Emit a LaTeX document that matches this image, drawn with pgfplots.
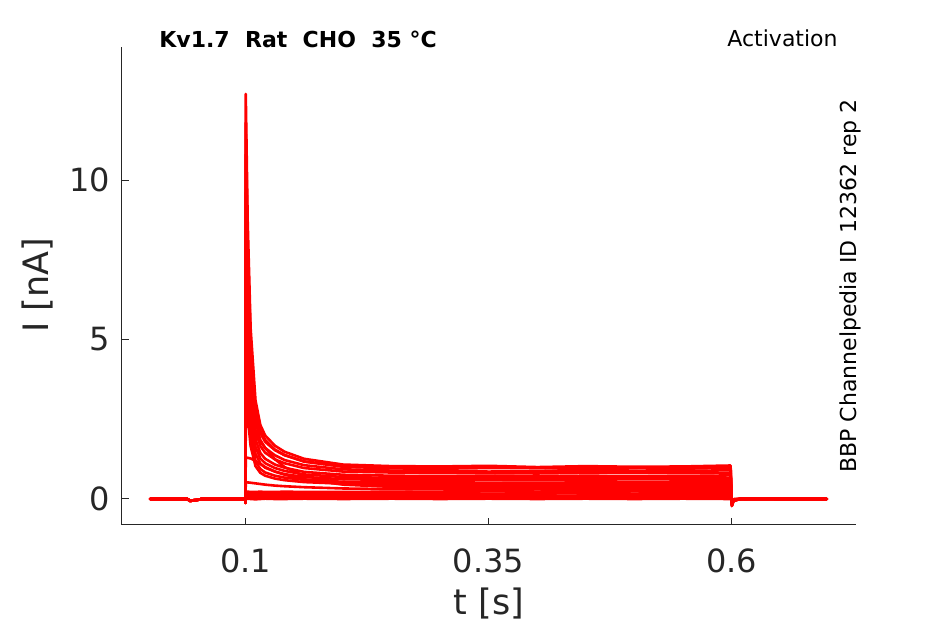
\documentclass[border=0pt]{standalone}
\usepackage{fontspec}
\setmainfont{DejaVu Sans}
\usepackage{pgfplots}
\usepackage{pgfplotstable}
\pgfplotsset{compat=1.18}
\definecolor{txt}{HTML}{262626}

\pgfplotstableread{
t a b c d e f g h i j k l m n o p q r
0.002 0 0.01 0 -0.01 0 0 0.01 0 0 -0.01 0 0 0.01 0 0 0 0.01 0
0.040 0 0 0 0 0 0 0 0 0 0 0 0 0 0 0 0 0 0
0.043 -0.06 -0.06 -0.05 -0.06 -0.06 -0.05 -0.06 -0.06 -0.05 -0.06 -0.06 -0.05 -0.06 -0.06 -0.05 -0.06 -0.06 -0.05
0.050 -0.03 -0.03 -0.03 -0.03 -0.03 -0.03 -0.03 -0.03 -0.03 -0.03 -0.03 -0.03 -0.03 -0.03 -0.03 -0.03 -0.03 -0.03
0.055 0 0 0 0 0 0 0 0 0 0 0 0 0 0 0 0 0 0
0.0997 0 0 0 0 0 0 0 0 0 0 0 0 0 0 0 0 0 0
0.1000 -0.12 -0.12 -0.12 -0.12 -0.12 -0.12 -0.12 -0.12 -0.12 -0.12 -0.12 -0.12 -0.12 -0.12 -0.12 -0.12 -0.12 -0.12
0.1003 12.7 11.8 10.8 9.6 8.4 7.2 6.2 5.2 4.3 3.7 2.35 1.30 0.52 0.22 0.14 0.08 0.03 0.00
0.1023 8.68 8.07 7.42 6.60 5.79 4.97 4.29 3.62 3.00 2.59 2.30 1.29 0.52 0.23 0.15 0.09 0.04 0.01
0.1053 5.35 4.97 4.62 4.11 3.63 3.12 2.71 2.30 1.92 1.66 2.15 1.27 0.51 0.22 0.14 0.08 0.03 0.00
0.1103 3.09 2.87 2.72 2.43 2.16 1.87 1.64 1.42 1.19 1.03 1.95 1.20 0.49 0.22 0.14 0.09 0.04 -0.01
0.1153 2.32 2.15 2.07 1.85 1.66 1.44 1.27 1.11 0.94 0.82 1.80 1.10 0.47 0.23 0.15 0.09 0.04 0.00
0.1203 1.99 1.85 1.79 1.60 1.45 1.26 1.12 0.98 0.83 0.73 1.60 1.00 0.45 0.22 0.14 0.08 0.03 0.01
0.1303 1.67 1.55 1.53 1.37 1.24 1.08 0.97 0.86 0.73 0.64 1.25 0.86 0.42 0.22 0.15 0.09 0.04 0.00
0.1403 1.48 1.38 1.37 1.22 1.12 0.98 0.88 0.78 0.67 0.59 1.00 0.76 0.40 0.23 0.15 0.09 0.04 0.00
0.1603 1.26 1.17 1.18 1.06 0.97 0.85 0.77 0.69 0.60 0.53 0.72 0.62 0.37 0.22 0.15 0.09 0.03 0.01
0.2003 1.08 1.01 1.03 0.93 0.86 0.76 0.69 0.62 0.54 0.48 0.50 0.45 0.33 0.22 0.16 0.10 0.04 0.00
0.2503 1.03 0.96 0.99 0.89 0.83 0.73 0.66 0.60 0.52 0.46 0.44 0.38 0.31 0.23 0.16 0.10 0.04 0.01
0.3003 1.02 0.95 0.98 0.88 0.82 0.72 0.67 0.61 0.53 0.47 0.42 0.36 0.30 0.22 0.17 0.10 0.05 0.00
0.3500 1.04 0.97 0.99 0.86 0.81 0.73 0.65 0.60 0.51 0.46 0.41 0.35 0.29 0.24 0.17 0.11 0.04 0.01
0.4003 1.00 0.97 0.97 0.87 0.80 0.71 0.65 0.59 0.51 0.45 0.41 0.36 0.30 0.23 0.17 0.10 0.05 0.00
0.4500 1.03 0.94 0.99 0.89 0.82 0.73 0.66 0.60 0.52 0.46 0.42 0.35 0.29 0.23 0.18 0.11 0.05 0.01
0.5003 1.01 0.96 0.98 0.87 0.83 0.72 0.68 0.62 0.53 0.46 0.40 0.36 0.30 0.24 0.17 0.11 0.04 0.00
0.5500 1.02 0.95 1.00 0.88 0.81 0.72 0.67 0.61 0.53 0.47 0.41 0.35 0.29 0.23 0.18 0.11 0.05 0.01
0.5990 1.05 0.98 0.99 0.90 0.82 0.74 0.66 0.60 0.52 0.46 0.42 0.36 0.30 0.24 0.18 0.12 0.05 0.00
0.6003 -0.22 -0.21 -0.22 -0.20 -0.19 -0.18 -0.17 -0.16 -0.15 -0.14 -0.13 -0.12 -0.10 -0.08 -0.07 -0.05 -0.03 -0.02
0.6020 -0.06 -0.06 -0.05 -0.05 -0.05 -0.04 -0.04 -0.04 -0.03 -0.03 -0.03 -0.02 -0.02 -0.02 -0.01 -0.01 -0.01 -0.01
0.6100 0.01 0.01 0.01 0.01 0 0.01 0 0.01 0 0.01 0 0 0.01 0 0 0.01 0 0
0.6500 0 0.01 0 0 0.01 0 0 0.01 0 0 0 0.01 0 0 0.01 0 0 0
0.6980 0 0 0 0 0 0 0 0 0 0 0 0 0 0 0 0 0 0
}\traces

\begin{document}
\begin{tikzpicture}
\useasboundingbox (-61pt,-49.5pt) rectangle (411.5pt,262.5pt);
\begin{axis}[
  at={(0,0)}, anchor=south west,
  scale only axis, width=367pt, height=239pt,
  xmin=-0.027, xmax=0.728, ymin=-0.815, ymax=14.17,
  axis x line*=bottom, axis y line*=left,
  axis line style={txt, line width=0.5pt, -},
  tick align=inside, major tick length=3.5pt,
  tick style={txt, line width=0.5pt},
  xtick={0.1,0.35,0.6}, xticklabels={0.1,0.35,0.6},
  ytick={0,5,10}, yticklabels={0,5,10},
  ticklabel style={font=\fontsize{16}{18}\selectfont, text=txt},
  xticklabel style={yshift=-8.5pt},
  yticklabel style={xshift=-2.5pt},
  /pgf/number format/assume math mode=true,
  clip=false,
]
\pgfplotsinvokeforeach{a,b,c,d,e,f,g,h,i,j,k,l,m,n,o,p,q,r}{
  \addplot[color=red, line width=1.3pt, line join=round, line cap=round] table[x=t, y=#1]{\traces};
}
\end{axis}
\node[anchor=center, text=txt, font=\fontsize{17.5}{20}\selectfont] at (183.5pt,-39.5pt) {t [s]};
\node[anchor=center, rotate=90, text=txt, font=\fontsize{17.5}{20}\selectfont] at (-42pt,120pt) {I [nA]};
\node[anchor=west, font=\bfseries\fontsize{11}{13}\selectfont, inner sep=0pt] at (18.5pt,243pt) {Kv1.7\ \ Rat\ \ CHO\ \ 35 °C};
\node[anchor=east, font=\fontsize{11}{13}\selectfont, inner sep=0pt] at (358pt,243.5pt) {Activation};
\node[anchor=center, rotate=90, font=\fontsize{11}{13}\selectfont, inner sep=0pt] at (364pt,119.5pt) {BBP Channelpedia ID 12362 rep 2};
\end{tikzpicture}
\end{document}
